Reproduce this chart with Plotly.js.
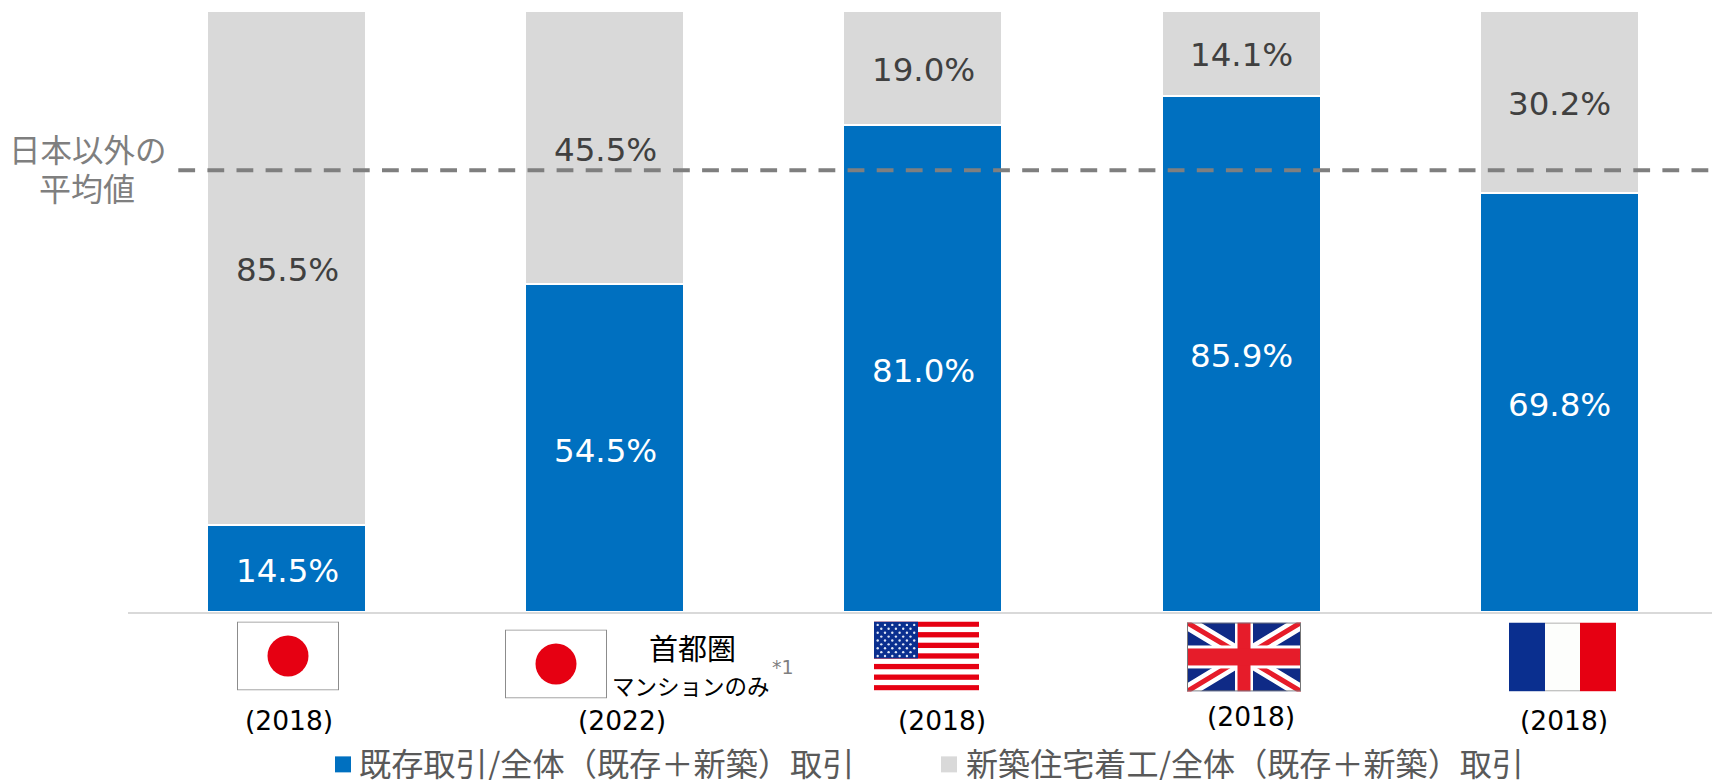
<!DOCTYPE html>
<html>
<head>
<meta charset="utf-8">
<script src="https://cdn.plot.ly/plotly-3.0.1.min.js"></script>
<style>html,body{margin:0;padding:0;background:#fff;overflow:hidden}#chart{width:1712px;height:780px}</style>
</head>
<body>
<div id="chart"></div>
<script>
const categories = ["日本 2018", "日本 首都圏マンションのみ 2022", "米国 2018", "英国 2018", "フランス 2018"];
const existingShare = [14.5, 54.5, 81.0, 85.9, 69.8];
const newBuildShare = [85.5, 45.5, 19.0, 14.1, 30.2];
const averageExJapan = 73.5;
const yearLabels = ["(2018)", "(2022)", "(2018)", "(2018)", "(2018)"];
const yearLabelX = [289, 622, 942, 1251, 1564];
const yearLabelY = [721, 721, 721, 717, 721];
const seriesNames = ["既存取引/全体（既存＋新築）取引", "新築住宅着工/全体（既存＋新築）取引"];
const seriesColors = ["#0070c0", "#d9d9d9"];

const W = 1712, H = 780, L = 128, T = 11, B = 167.5;
const X = px => (px - L) / (W - L);
const Y = py => 1 - (py - T) / (H - T - B);
const uri = s => "data:image/svg+xml;utf8," + encodeURIComponent(s);
const svg = (w, h, body) => `<svg xmlns="http://www.w3.org/2000/svg" width="${w}" height="${h}" viewBox="0 0 ${w} ${h}" preserveAspectRatio="none">${body}</svg>`;

const japan = svg(102, 69, `<rect x=".5" y=".5" width="101" height="68" fill="#fff" stroke="#8c8c8c"/><ellipse cx="51" cy="34.5" rx="20.5" ry="20.5" fill="#e60012"/>`);
let stripes = "", stars = "";
for (let i = 0; i < 7; i++) stripes += `<rect x="0" y="${i * 2 * 69 / 13}" width="105" height="${69 / 13}" fill="#e60012"/>`;
for (let r = 0; r < 9; r++) for (let c = 0; c < (r % 2 ? 5 : 6); c++)
  stars += `<circle cx="${(r % 2 ? 7.3 : 3.7) + c * 7.3}" cy="${3.4 + r * 3.9}" r="1.2" fill="#dfe6f5"/>`;
const usa = svg(105, 69, `<rect width="105" height="69" fill="#fff"/>${stripes}<rect width="44" height="37" fill="#0a2f8f"/>${stars}`);
const uk = svg(114, 69, `<rect width="114" height="69" fill="#0f2a86"/>
<path d="M0 0L114 69M114 0L0 69" stroke="#fff" stroke-width="14"/>
<path d="M0 0L52 31M114 0L66 29M0 69L48 40M114 69L62 38" stroke="#e61c2a" stroke-width="5"/>
<rect x="48" width="18" height="69" fill="#fff"/><rect y="23" width="114" height="23" fill="#fff"/>
<rect x="50.5" width="13" height="69" fill="#e61c2a"/><rect y="26" width="114" height="17" fill="#e61c2a"/>
<rect x=".5" y=".5" width="113" height="68" fill="none" stroke="#777"/>`);
const france = svg(107, 69, `<rect width="36" height="69" fill="#0a2f8f"/><rect x="36" width="35" height="69" fill="#fdfefc"/><rect x="71" width="36" height="69" fill="#e60012"/><path d="M36 .5H71M36 68.5H71" stroke="#999"/>`);

const flag = (src, x0, x1, y0, y1) => ({
  source: uri(src), xref: "paper", yref: "paper", x: X(x0), y: Y(y0),
  sizex: (x1 - x0) / (W - L), sizey: (y1 - y0) / (H - T - B),
  sizing: "stretch", xanchor: "left", yanchor: "top", layer: "above"
});

const note = (text, px, py, size, color, family, anchor) => ({
  text, xref: "paper", yref: "paper", x: X(px), y: Y(py), xanchor: anchor || "center", yanchor: "middle",
  showarrow: false, font: { size, color, family }
});
const CJK = "'Noto Sans CJK JP', sans-serif";
const LAT = "'DejaVu Sans', sans-serif";

const bar = (vals, i) => ({
  type: "bar", name: seriesNames[i], x: categories, y: vals,
  marker: { color: seriesColors[i], line: { color: "#ffffff", width: 2 } },
  hoverinfo: "x+y+name", showlegend: false
});

const valueLabel = (cat, mid, value, color, shift) => ({
  text: value.toFixed(1) + "%", xref: "x", yref: "y", x: cat, y: mid, xanchor: "center", yanchor: "middle",
  showarrow: false, yshift: shift, xshift: 0.5, font: { family: LAT, size: 32.5, color }
});

const annotations = [];
categories.forEach((c, i) => {
  annotations.push(valueLabel(c, existingShare[i] / 2, existingShare[i], "#ffffff", -2.5));
  annotations.push(valueLabel(c, existingShare[i] + newBuildShare[i] / 2, newBuildShare[i], "#404040", -2));
});
yearLabels.forEach((t, i) => annotations.push(note(t, yearLabelX[i], yearLabelY[i], 26.5, "#000000", LAT)));
annotations.push(
  note("日本以外の", 88, 148, 31.5, "#7f7f7f", CJK),
  note("平均値", 87, 187, 32, "#7f7f7f", CJK),
  note("首都圏", 692, 648, 29, "#000000", CJK),
  note("マンションのみ", 691, 686, 22.5, "#000000", CJK),
  note("*1", 783, 668, 19, "#7f7f7f", LAT),
  note(seriesNames[0], 356.5, 763, 32.2, "#595959", CJK, "left"),
  note(seriesNames[1], 963.5, 763, 32.1, "#595959", CJK, "left")
);

const legendSquare = (x0, color) => ({ type: "rect", xref: "paper", yref: "paper", x0: X(x0), x1: X(x0 + 16),
  y0: Y(773), y1: Y(757), fillcolor: color, line: { width: 0 }, layer: "above" });

Plotly.newPlot("chart", [bar(existingShare, 0), bar(newBuildShare, 1)], {
  width: W, height: H, autosize: false,
  margin: { l: L, r: 0, t: T, b: B, pad: 0, autoexpand: false },
  paper_bgcolor: "#ffffff", plot_bgcolor: "#ffffff",
  barmode: "stack", bargap: 0.5,
  xaxis: { type: "category", categoryarray: categories, range: [-0.4999, 4.4811], showticklabels: false, ticks: "",
           showgrid: false, zeroline: false, showline: true, linecolor: "#d9d9d9", linewidth: 2, fixedrange: true },
  yaxis: { range: [0, 100], visible: false, showgrid: false, zeroline: false, fixedrange: true },
  showlegend: false,
  shapes: [
    { type: "line", xref: "paper", yref: "y", x0: X(1708.3), x1: X(177.3), y0: averageExJapan, y1: averageExJapan,
      layer: "above", line: { color: "#7f7f7f", width: 4, dash: "16.8px,12.3px" } },
    legendSquare(335, seriesColors[0]),
    legendSquare(941, seriesColors[1])
  ],
  images: [
    flag(japan, 237, 339, 622, 691),
    flag(japan, 505, 607, 630, 699),
    flag(usa, 874, 979, 622, 691),
    flag(uk, 1187, 1301, 623, 692),
    flag(france, 1509, 1616, 623, 692)
  ],
  annotations
}, { displayModeBar: false, responsive: false });
</script>
</body>
</html>
